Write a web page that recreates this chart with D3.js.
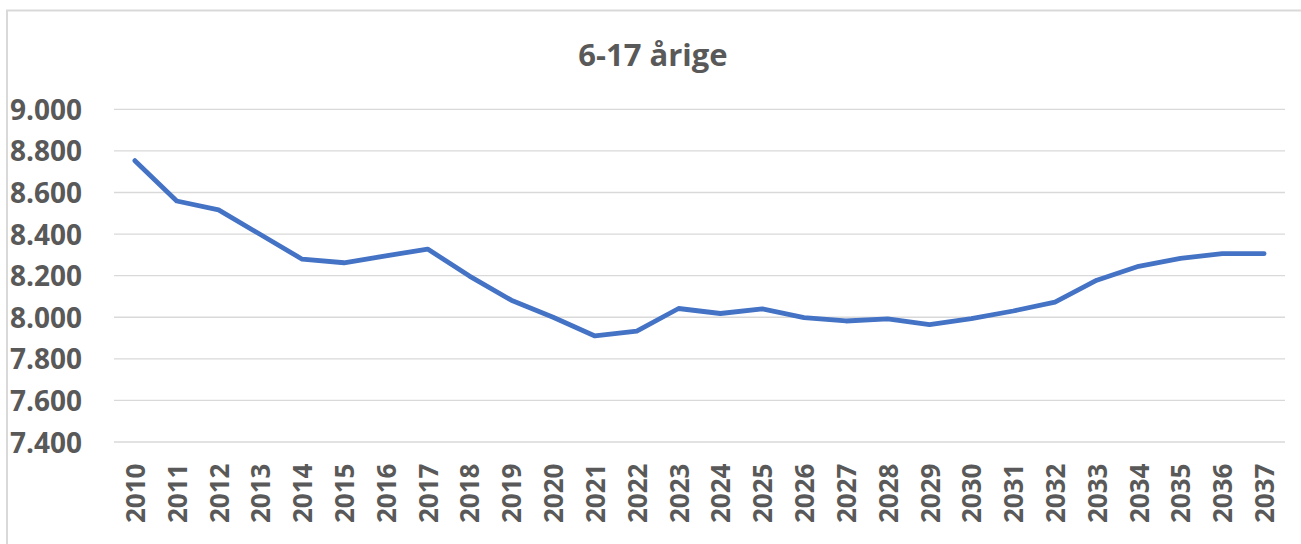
<!DOCTYPE html>
<html><head><meta charset="utf-8">
<script src="https://cdn.jsdelivr.net/npm/d3@7"></script>
<style>body{margin:0;background:#fff}svg{display:block}</style>
</head><body>
<script>
const title = "6-17 årige";
const years = ["2010","2011","2012","2013","2014","2015","2016","2017","2018","2019","2020","2021","2022","2023","2024","2025","2026","2027","2028","2029","2030","2031","2032","2033","2034","2035","2036","2037"];
const values = [8753,8559,8516,8398,8279,8262,8295,8328,8198,8082,8000,7910,7933,8042,8018,8040,7998,7982,7992,7965,7993,8030,8073,8178,8245,8283,8306,8306];
const yTicks = [7400,7600,7800,8000,8200,8400,8600,8800,9000];

const W = 1301, H = 544;
const FONT = "'Open Sans', sans-serif";
const svg = d3.select("body").append("svg").attr("width", W).attr("height", H);
svg.append("rect").attr("x",7).attr("y",10.5).attr("width",1300).attr("height",545)
  .attr("fill","#fff").attr("stroke","#d9d9d9").attr("stroke-width",2);

const m = {left:114, right:1285, top:109.3, bottom:442};
const x = d3.scaleBand().domain(years).range([m.left, m.right]);
const y = d3.scaleLinear().domain([7400, 9000]).range([m.bottom, m.top]);

svg.append("text").attr("x", 653).attr("y", 66).attr("text-anchor","middle")
  .attr("font-family",FONT).attr("font-weight","bold")
  .attr("font-size", 31).attr("fill","#595959").text(title);

// gridlines
svg.append("g").selectAll("line").data(yTicks).join("line")
  .attr("x1", m.left).attr("x2", m.right)
  .attr("y1", d => y(d)).attr("y2", d => y(d))
  .attr("stroke","#d9d9d9").attr("stroke-width",1.3);

const fmt = d => d3.format(",")(d).replace(/,/g, ".");
svg.append("g").selectAll("text").data(yTicks).join("text")
  .attr("x", 10).attr("y", d => y(d) + 10.5)
  .attr("font-family",FONT).attr("font-weight","bold")
  .attr("font-size", 28).attr("fill","#595959").text(fmt);

svg.append("g").selectAll("text").data(years).join("text")
  .attr("transform", d => `translate(${x(d)+x.bandwidth()/2+10},523) rotate(-90)`)
  .attr("text-anchor","start")
  .attr("font-family",FONT).attr("font-weight","bold")
  .attr("font-size", 26).attr("fill","#595959").text(d => d);

const line = d3.line().x((d,i) => x(years[i]) + x.bandwidth()/2).y(d => y(d));
svg.append("path").datum(values).attr("d", line)
  .attr("fill","none").attr("stroke","#4472C4").attr("stroke-width",4.8)
  .attr("stroke-linecap","round").attr("stroke-linejoin","round");
</script>
</body></html>
